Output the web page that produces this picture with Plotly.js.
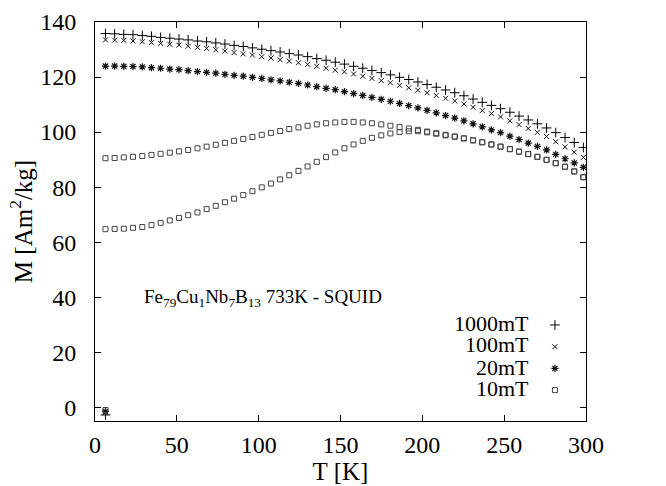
<!DOCTYPE html>
<html>
<head>
<meta charset="utf-8">
<script src="https://cdn.plot.ly/plotly-3.0.1.min.js"></script>
<style>html,body{margin:0;padding:0;background:#fff;}</style>
</head>
<body>
<div id="chart" style="width:666px;height:486px;"></div>
<script>
// Temperature points of each sweep [K]
const T = [6.4, 12.0, 17.6, 23.2, 28.9, 34.5, 40.1, 45.7, 51.3, 56.9,
           62.6, 68.2, 73.8, 79.4, 85.0, 90.6, 96.2, 101.9, 107.5, 113.1,
           118.7, 124.3, 129.9, 135.5, 141.2, 146.8, 152.4, 158.0, 163.6, 169.2,
           174.9, 180.5, 186.1, 191.7, 197.3, 202.9, 208.5, 214.2, 219.8, 225.4,
           231.0, 236.6, 242.2, 247.8, 253.5, 259.1, 264.7, 270.3, 275.9, 281.5,
           287.2, 292.8, 298.4];

// Magnetisation [Am^2/kg]
const M1000 = [135.8, 135.7, 135.5, 135.4, 135.1, 134.8, 134.4, 134.1, 133.8, 133.5,
               133.1, 132.8, 132.4, 132.0, 131.5, 131.1, 130.6, 130.1, 129.6, 129.1,
               128.5, 128.0, 127.4, 126.7, 126.1, 125.4, 124.7, 123.9, 123.2, 122.4,
               121.6, 120.8, 119.9, 119.1, 118.2, 117.3, 116.3, 115.3, 114.3, 113.2,
               112.0, 110.8, 109.7, 108.5, 107.2, 105.8, 104.4, 103.0, 101.5, 99.8,
               98.0, 96.2, 94.4];
const M100 = [133.5, 133.4, 133.3, 133.1, 132.8, 132.5, 132.2, 131.9, 131.6, 131.2,
              130.8, 130.4, 129.9, 129.4, 128.9, 128.4, 128.0, 127.4, 126.9, 126.3,
              125.8, 125.2, 124.6, 123.9, 123.2, 122.5, 121.9, 121.1, 120.3, 119.5,
              118.7, 117.9, 117.0, 116.1, 115.2, 114.3, 113.3, 112.3, 111.3, 110.2,
              109.0, 107.8, 106.7, 105.5, 104.1, 102.7, 101.3, 99.9, 98.4, 96.5,
              94.6, 92.7, 90.8];
const M20 = [124.0, 124.0, 123.9, 123.8, 123.7, 123.4, 123.2, 122.9, 122.7, 122.3,
             122.0, 121.7, 121.4, 121.0, 120.6, 120.3, 119.9, 119.5, 119.0, 118.6,
             118.1, 117.7, 117.1, 116.5, 115.9, 115.4, 114.7, 114.0, 113.3, 112.6,
             111.9, 111.2, 110.4, 109.6, 108.8, 107.9, 107.0, 106.0, 105.1, 104.1,
             103.0, 101.9, 100.8, 99.8, 98.5, 97.3, 96.0, 94.8, 93.5, 91.9,
             90.3, 88.8, 87.2];
const M10fc = [90.5, 90.6, 90.8, 91.0, 91.3, 91.7, 92.1, 92.5, 93.0, 93.5,
               94.1, 94.7, 95.4, 96.1, 96.8, 97.5, 98.2, 99.0, 99.7, 100.4,
               101.1, 101.7, 102.3, 102.8, 103.2, 103.5, 103.7, 103.7, 103.5, 103.2,
               102.8, 102.3, 101.8, 101.3, 100.8, 100.2, 99.6, 99.0, 98.4, 97.7,
               97.0, 96.3, 95.5, 94.7, 93.8, 92.9, 92.0, 91.0, 89.9, 88.7,
               87.4, 85.7, 83.6];
const M10zfc = [64.7, 64.8, 64.9, 65.2, 65.5, 66.2, 67.0, 67.9, 68.8, 69.8,
                70.8, 72.0, 73.2, 74.5, 75.8, 77.1, 78.5, 79.9, 81.3, 82.8,
                84.3, 85.9, 87.5, 89.2, 90.9, 92.6, 94.1, 95.5, 96.8, 97.9,
                98.8, 99.5, 100.0, 100.3, 100.3, 99.9, 99.4, 98.8, 98.3, 97.7,
                97.0, 96.3, 95.5, 94.7, 93.8, 92.9, 92.0, 91.0, 89.9, 88.7,
                87.4, 85.7, 83.6];

// First reading of each run, before the field was applied
const startT = [6.4];
const startM = {"1000mT": [-2.8], "100mT": [-2.0], "20mT": [-1.5], "10mT": [-1.0]};

const seriesNames = ["1000mT", "100mT", "20mT", "10mT"];
const annotationText = "Fe<sub>79</sub>Cu<sub>1</sub>Nb<sub>7</sub>B<sub>13</sub> 733K - SQUID";

const FONT = "'Liberation Serif', 'Times New Roman', Times, serif";

const markers = {
  "1000mT": {symbol: "cross-thin-open", size: 7, color: "#000", line: {color: "#000", width: 1}},
  "100mT":  {symbol: "x-thin-open", size: 5, color: "#111", line: {color: "#111", width: 1}},
  "20mT":   {symbol: "asterisk-open", size: 6, color: "#111", line: {color: "#111", width: 1.2}},
  "10mT":   {symbol: "square-open", size: 5, color: "#444", line: {color: "#444", width: 1}}
};

const dataY = {"1000mT": [M1000], "100mT": [M100], "20mT": [M20], "10mT": [M10zfc, M10fc]};

const traces = [];
seriesNames.forEach(function (n) {
  dataY[n].forEach(function (arr, j) {
    traces.push({
      x: j === 0 ? startT.concat(T) : T,
      y: j === 0 ? startM[n].concat(arr) : arr,
      name: n, legendgroup: n, showlegend: false,
      mode: "markers", type: "scatter", marker: markers[n]
    });
  });
});
// key samples (symbol only; label is drawn as text to its left, as in the original)
seriesNames.forEach(function (n) {
  traces.push({x: [null], y: [null], name: "", legendgroup: "key", showlegend: true,
    mode: "markers", type: "scatter", marker: markers[n], hoverinfo: "skip"});
});

const legendY = [0.2456, 0.1905, 0.1353, 0.0827];
const annotations = [
  {x: 28.7, y: 39.8, xref: "x", yref: "y", xanchor: "left", yanchor: "middle",
   text: annotationText, showarrow: false, font: {family: FONT, size: 19, color: "#000"}}
];
seriesNames.forEach(function (n, i) {
  annotations.push({x: 0.888, y: legendY[i], xref: "paper", yref: "paper",
    xanchor: "right", yanchor: "middle", text: n, showarrow: false,
    font: {family: FONT, size: 22, color: "#000"}});
});

const axisCommon = {
  showline: true, linecolor: "#000", linewidth: 1, mirror: "ticks",
  ticks: "inside", ticklen: 6, tickwidth: 1, tickcolor: "#000",
  showgrid: false, zeroline: false,
  tickfont: {family: FONT, size: 24, color: "#000"}
};

const layout = {
  width: 666, height: 486,
  margin: {l: 95, r: 80, t: 22, b: 65},
  paper_bgcolor: "#fff", plot_bgcolor: "#fff",
  font: {family: FONT, size: 22, color: "#000"},
  xaxis: Object.assign({}, axisCommon, {range: [0, 300], dtick: 50, tick0: 0,
    ticklabelstandoff: 2,
    title: {text: "T [K]", font: {family: FONT, size: 25, color: "#000"}, standoff: 2}}),
  yaxis: Object.assign({}, axisCommon, {range: [-5, 140], dtick: 20, tick0: 0,
    ticklabelstandoff: 13,
    title: {text: "M [Am<sup>2</sup>/kg]", font: {family: FONT, size: 25, color: "#000"}, standoff: 0}}),
  showlegend: true,
  legend: {x: 0.896, y: 0.2805, xanchor: "left", yanchor: "top", bgcolor: "rgba(0,0,0,0)",
    font: {family: FONT, size: 14.4, color: "#000"}, itemwidth: 30, tracegroupgap: 0},
  annotations: annotations
};

Plotly.newPlot("chart", traces, layout, {displayModeBar: false, staticPlot: true});
</script>
</body>
</html>
